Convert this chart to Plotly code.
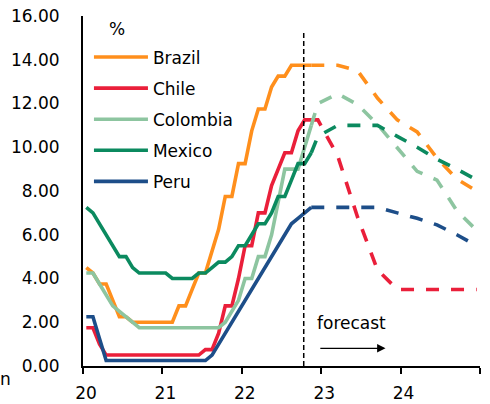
import plotly.graph_objects as go

# ---------------- data ----------------
years = [2020, 2021, 2022]
actual_months = [(y, m) for y in years for m in range(1, 13)][:35]  # Jan 2020 .. Nov 2022

brazil_actual = [4.5, 4.25, 3.75, 3.75, 3.0, 2.25, 2.25, 2.0, 2.0, 2.0, 2.0, 2.0,
                 2.0, 2.0, 2.75, 2.75, 3.5, 4.25, 4.25, 5.25, 6.25, 7.75, 7.75, 9.25,
                 9.25, 10.75, 11.75, 11.75, 12.75, 13.25, 13.25, 13.75, 13.75, 13.75, 13.75]
chile_actual = [1.75, 1.75, 1.0, 0.5, 0.5, 0.5, 0.5, 0.5, 0.5, 0.5, 0.5, 0.5,
                0.5, 0.5, 0.5, 0.5, 0.5, 0.5, 0.75, 0.75, 1.5, 2.75, 2.75, 4.0,
                5.5, 5.5, 7.0, 7.0, 8.25, 9.0, 9.75, 9.75, 10.75, 11.25, 11.25]
colombia_actual = [4.25, 4.25, 3.75, 3.25, 2.75, 2.5, 2.25, 2.0, 1.75, 1.75, 1.75, 1.75,
                   1.75, 1.75, 1.75, 1.75, 1.75, 1.75, 1.75, 1.75, 1.75, 2.0, 2.5, 3.0,
                   4.0, 4.0, 5.0, 5.0, 6.0, 7.5, 9.0, 9.0, 9.0, 10.0, 11.0]
mexico_actual = [7.25, 7.0, 6.5, 6.0, 5.5, 5.0, 5.0, 4.5, 4.25, 4.25, 4.25, 4.25,
                 4.25, 4.0, 4.0, 4.0, 4.0, 4.25, 4.25, 4.5, 4.75, 4.75, 5.0, 5.5,
                 5.5, 6.0, 6.5, 6.5, 7.0, 7.75, 7.75, 8.5, 9.25, 9.25, 9.75]
peru_actual = [2.25, 2.25, 1.25, 0.25, 0.25, 0.25, 0.25, 0.25, 0.25, 0.25, 0.25, 0.25,
               0.25, 0.25, 0.25, 0.25, 0.25, 0.25, 0.25, 0.5, 1.0, 1.5, 2.0, 2.5,
               3.0, 3.5, 4.0, 4.5, 5.0, 5.5, 6.0, 6.5, 6.75, 7.0, 7.25]

forecast_months = [(2022, 11), (2022, 12), (2023, 3), (2023, 6), (2023, 9), (2023, 12),
                   (2024, 3), (2024, 6), (2024, 9), (2024, 12)]
brazil_fc = [13.75, 13.75, 13.75, 13.5, 12.25, 11.25, 10.7, 9.5, 8.55, 8.0]
chile_fc = [11.25, 11.25, 9.6, 6.8, 4.4, 3.5, 3.5, 3.5, 3.5, 3.5]
colombia_fc = [11.0, 12.0, 12.45, 11.95, 11.05, 9.95, 8.9, 8.5, 7.1, 6.2]
mexico_fc = [9.75, 10.5, 11.0, 11.0, 11.0, 10.5, 10.0, 9.45, 9.0, 8.5]
peru_fc = [7.25, 7.25, 7.25, 7.25, 7.25, 7.0, 6.75, 6.45, 6.0, 5.5]

countries = ["Brazil", "Chile", "Colombia", "Mexico", "Peru"]
colors = ["#FF8F1C", "#EA1F3A", "#8DC5A0", "#0B8A5F", "#1D4E89"]
actuals = [brazil_actual, chile_actual, colombia_actual, mexico_actual, peru_actual]
forecasts = [brazil_fc, chile_fc, colombia_fc, mexico_fc, peru_fc]

x_tick_vals = [2020, 2021, 2022, 2023, 2024, 2025]
x_tick_text = ["20", "21", "22", "23", "24", ""]
y_tick_vals = [0, 2, 4, 6, 8, 10, 12, 14, 16]
forecast_start = 2022.78


def to_t(ym):
    y, m = ym
    return y + (m - 0.5) / 12.0


xa = [to_t(ym) for ym in actual_months]
xf = [to_t(ym) for ym in forecast_months]

FONT = "DejaVu Sans"
FS = 17
fig = go.Figure()
for name, col, a in zip(countries, colors, actuals):
    fig.add_trace(go.Scatter(x=xa, y=a, mode="lines", name=name, legendgroup=name,
                             line=dict(color=col, width=3.6)))
for name, col, f in zip(countries, colors, forecasts):
    fig.add_trace(go.Scatter(x=xf, y=f, mode="lines", name=name, legendgroup=name,
                             showlegend=False,
                             line=dict(color=col, width=3.6, dash="13px,12px")))

fig.add_shape(type="line", xref="x", yref="y", x0=forecast_start, x1=forecast_start,
              y0=0, y1=15.25, line=dict(color="black", width=1.5, dash="5px,3px"))

fig.add_annotation(x=2023.38, y=1.95, xref="x", yref="y", text="forecast",
                   xanchor="center", yanchor="middle",
                   showarrow=False, font=dict(family=FONT, size=FS, color="black"))
fig.add_annotation(x=2023.81, y=0.81, ax=2022.97, ay=0.81, xref="x", yref="y",
                   axref="x", ayref="y", text="", showarrow=True, arrowhead=2,
                   arrowsize=1.4, arrowwidth=1.2, arrowcolor="black")
fig.add_annotation(x=0.086, y=0.963, xref="paper", yref="paper", text="%",
                   xanchor="center", yanchor="middle",
                   showarrow=False, font=dict(family=FONT, size=FS, color="black"))
fig.add_annotation(x=-0.213, y=-0.037, xref="paper", yref="paper", text="n",
                   xanchor="left", yanchor="middle", showarrow=False,
                   font=dict(family=FONT, size=FS, color="black"))

fig.update_layout(
    width=490, height=404,
    margin=dict(l=83, r=10, t=16, b=38, autoexpand=False),
    paper_bgcolor="white", plot_bgcolor="white",
    font=dict(family=FONT, size=FS, color="black"),
    showlegend=True,
    legend=dict(x=0.015, y=0.933, xanchor="left", yanchor="top",
                bgcolor="rgba(0,0,0,0)", font=dict(family=FONT, size=FS),
                itemwidth=54, tracegroupgap=6, traceorder="grouped"),
)
fig.update_xaxes(range=[2020, 2025], tickvals=x_tick_vals, ticktext=x_tick_text,
                 showline=True, linecolor="black", linewidth=2, ticks="outside",
                 ticklen=6, tickwidth=2, tickcolor="black", showgrid=False,
                 zeroline=False, ticklabelstandoff=5, ticklabelshift=3,
                 automargin=False, tickfont=dict(family=FONT, size=FS))
fig.update_yaxes(range=[0, 16], tickvals=y_tick_vals, tickformat=".2f",
                 showline=True, linecolor="black", linewidth=2, ticks="",
                 showgrid=False, zeroline=False, ticklabelstandoff=18,
                 automargin=False, tickfont=dict(family=FONT, size=FS))

fig.write_html("out.html", config={"displayModeBar": False},
               post_script="document.body.style.margin='0';document.body.style.padding='0';")
